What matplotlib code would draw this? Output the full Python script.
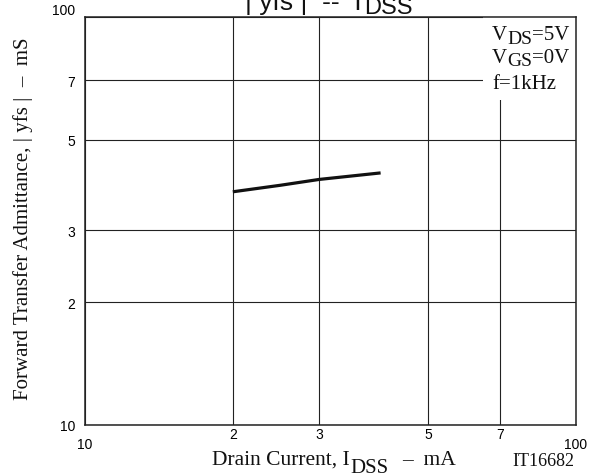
import matplotlib
matplotlib.use('Agg')
import matplotlib.pyplot as plt
from matplotlib.patches import Rectangle
from matplotlib.ticker import NullLocator

# curve (mA, mS)
idss = [2.0, 2.5, 3.0, 4.0]
yfs = [3.73, 3.87, 4.0, 4.15]

ticks = [1, 2, 3, 5, 7, 10]
xtick_labels = ['10', '2', '3', '5', '7', '100']
ytick_labels = ['10', '2', '3', '5', '7', '100']

W, H = 596, 477
SANS = 'Liberation Sans'
SERIF = 'Liberation Serif'

fig = plt.figure(figsize=(W / 100, H / 100), dpi=100)
ax = fig.add_axes([85 / W, 1 - 425.7 / H, (576 - 85) / W, (425.7 - 18.3) / H])

ax.set_xscale('log')
ax.set_yscale('log')
ax.set_xlim(1, 10)
ax.set_ylim(1, 10)
ax.set_xticks(ticks)
ax.set_yticks(ticks)
ax.xaxis.set_minor_locator(NullLocator())
ax.yaxis.set_minor_locator(NullLocator())
ax.set_xticklabels(xtick_labels, fontsize=10, family=SANS)
ax.set_yticklabels(ytick_labels, fontsize=10, family=SANS)
ax.tick_params(axis='both', length=0)
ax.tick_params(axis='x', pad=2)
ax.tick_params(axis='y', pad=7)

# end labels of x axis sit lower, top y label sits higher
xt = ax.xaxis.get_major_ticks()
xt[0].set_pad(9)
xt[-1].set_pad(9)
ax.yaxis.get_major_ticks()[-1].label1.set_va('bottom')

ax.set_axisbelow(True)
ax.grid(True, color='#222222', lw=0.8)
for sp in ax.spines.values():
    sp.set_linewidth(1.1)
    sp.set_color('#222222')

# white patch behind the conditions text
ax.add_patch(Rectangle((0.81, 0.797), 0.19, 0.203, transform=ax.transAxes,
                       facecolor='white', edgecolor='none', zorder=1))

ax.plot(idss, yfs, color='#111111', lw=2.3, zorder=2, solid_capstyle='butt')

renderer = fig.canvas.get_renderer()


def rich(x, y, pieces, ha='left'):
    # pieces: (text, gap before in px, drop in px, size, family); x, y in px from top-left
    widths = []
    for s, gap, dy, size, fam in pieces:
        t = fig.text(0, 0, s, fontsize=size, family=fam)
        widths.append(t.get_window_extent(renderer).width)
        t.remove()
    total = sum(widths) + sum(p[1] for p in pieces)
    if ha == 'right':
        x -= total
    elif ha == 'center':
        x -= total / 2
    for (s, gap, dy, size, fam), w in zip(pieces, widths):
        x += gap
        fig.text(x / W, 1 - (y + dy) / H, s, fontsize=size, family=fam,
                 ha='left', va='baseline', color='#111111')
        x += w


# title, cut at the top edge like the datasheet
rich(245, 10, [('| yfs |  --  I', 0, 0, 19, SANS), ('DSS', 3, 4, 17, SANS)])

# conditions
rich(492, 40, [('V', 0, 0, 15, SERIF), ('DS', 0, 3.5, 14, SERIF), ('=5V', 0, 0, 15, SERIF)])
rich(492, 63, [('V', 0, 0, 15, SERIF), ('GS', 0, 3.5, 14, SERIF), ('=0V', 0, 0, 15, SERIF)])
rich(492, 89, [('f=1kHz', 0, 0, 15, SERIF)])

# axis labels
rich(212, 465, [('Drain Current, I', 0, 0, 15.5, SERIF), ('DSS', 1, 8, 15, SERIF),
                ('–  mA', 13, 0, 15.5, SERIF)])
fig.text(23 / W, 1 - 219 / H, 'Forward Transfer Admittance, | yfs |  –  mS',
         rotation=90, ha='center', va='center', fontsize=15, family=SERIF, color='#111111')

fig.text(512 / W, 1 - 466 / H, 'IT16682', fontsize=13, family=SERIF, color='#111111')

fig.savefig('out.png', dpi=100)
